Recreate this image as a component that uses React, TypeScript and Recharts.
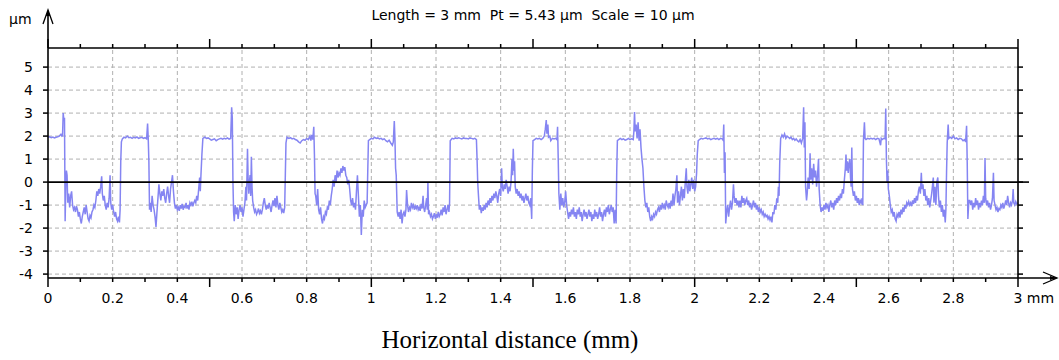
import { Line, LineChart, ReferenceLine, XAxis, YAxis } from "recharts";

// surface profile: [distance (mm), height (µm)]
const profile: [number, number][] = [
  [0, 1.95], [0.005, 1.97], [0.01, 1.93], [0.015, 1.96], [0.02, 1.92], [0.025, 1.95], [0.03, 1.97], [0.035, 2.0], [0.04, 2.08], [0.043, 2.0], [0.045, 2.02],
  [0.047, 3.0], [0.049, 2.7], [0.051, 2.8], [0.053, -1.7], [0.055, -0.2], [0.057, 0.5], [0.059, 0.3], [0.061, -0.9], [0.064, -0.5], [0.067, -1.1], [0.07, -0.6],
  [0.073, -0.4], [0.076, -1.0], [0.079, -1.2], [0.082, -1.1], [0.085, -1.3], [0.088, -1.05], [0.091, -1.2], [0.094, -1.5], [0.097, -1.3], [0.1, -1.6],
  [0.103, -1.8], [0.106, -1.5], [0.109, -1.3], [0.112, -1.1], [0.115, -1.4], [0.118, -1.0], [0.121, -1.3], [0.124, -1.6], [0.127, -1.7], [0.13, -1.45],
  [0.133, -1.55], [0.136, -1.3], [0.139, -1.2], [0.142, -1.0], [0.145, -1.1], [0.148, -0.8], [0.151, -0.4], [0.154, -0.6], [0.157, -0.3], [0.16, -0.5],
  [0.163, -0.2], [0.166, 0.25], [0.168, -0.5], [0.171, -0.8], [0.174, -0.6], [0.177, -1.0], [0.18, -1.2], [0.183, -0.9], [0.186, -1.1], [0.189, -0.7],
  [0.192, 0.3], [0.194, -0.9], [0.197, -1.2], [0.2, -1.0], [0.203, -1.3], [0.206, -1.5], [0.209, -1.3], [0.212, -1.6], [0.215, -1.7], [0.218, -1.5],
  [0.221, -1.75], [0.223, -1.2], [0.225, 0.9], [0.227, 1.75],
  [0.23, 1.88], [0.235, 1.95], [0.24, 1.92], [0.245, 2.0], [0.25, 1.93], [0.255, 1.95], [0.26, 1.9], [0.265, 1.95], [0.27, 1.92], [0.275, 1.96],
  [0.28, 1.9], [0.285, 1.93], [0.29, 1.95], [0.295, 1.9], [0.3, 1.93], [0.305, 1.88], [0.308, 2.55], [0.31, 1.9], [0.312, 0.9], [0.314, -1.2],
  [0.316, -0.9], [0.319, -1.3], [0.322, -0.6], [0.325, -1.0], [0.328, -1.2], [0.331, -1.5], [0.334, -1.95], [0.337, -1.3], [0.34, -0.7], [0.343, -0.1],
  [0.346, -0.5], [0.349, -0.8], [0.352, -0.4], [0.355, -0.6], [0.358, -0.3], [0.361, -0.7], [0.364, -0.9], [0.367, -0.5], [0.37, -0.2], [0.373, -0.6],
  [0.376, -0.9], [0.379, -0.3], [0.382, 0.0], [0.385, 0.3], [0.388, -0.4], [0.391, -0.9], [0.394, -1.15], [0.397, -1.0], [0.4, -1.2], [0.403, -1.1],
  [0.406, -1.25], [0.409, -1.0], [0.412, -1.15], [0.415, -0.95], [0.418, -1.2], [0.421, -1.05], [0.424, -1.1], [0.427, -0.9], [0.43, -1.15], [0.433, -1.0],
  [0.436, -1.2], [0.439, -0.9], [0.442, -1.0], [0.445, -0.85], [0.448, -1.05], [0.451, -0.9], [0.454, -0.8], [0.457, -0.9], [0.46, -0.6], [0.463, -0.8],
  [0.466, -0.3], [0.469, 0.2], [0.471, -0.4], [0.473, 0.3], [0.476, 1.2], [0.479, 1.9],
  [0.485, 1.95], [0.49, 1.9], [0.495, 1.92], [0.5, 1.88], [0.505, 1.82], [0.51, 1.85], [0.515, 1.88], [0.52, 1.8], [0.525, 1.85], [0.53, 1.88],
  [0.535, 1.9], [0.54, 1.87], [0.545, 1.9], [0.55, 1.88], [0.555, 1.92], [0.56, 1.87], [0.565, 1.9], [0.568, 3.25], [0.57, 2.8], [0.572, 0.0], [0.574, -1.3],
  [0.576, -1.7], [0.579, -1.0], [0.582, -1.4], [0.585, -1.1], [0.588, -1.6], [0.591, -1.2], [0.594, -1.0], [0.597, -1.3], [0.6, -1.1], [0.603, -1.5],
  [0.606, -1.2], [0.609, -0.9], [0.612, -0.2], [0.614, -0.8], [0.617, 1.45], [0.619, 0.1], [0.621, -0.5], [0.623, 0.0], [0.625, 0.3], [0.627, -0.6],
  [0.629, 1.1], [0.631, -0.2], [0.633, -0.8], [0.636, -1.1], [0.639, -1.3], [0.642, -1.2], [0.645, -1.4], [0.648, -1.3], [0.651, -1.15], [0.654, -1.35],
  [0.657, -1.25], [0.66, -1.4], [0.663, -1.2], [0.666, -0.9], [0.669, -0.7], [0.672, -1.0], [0.675, -1.2], [0.678, -1.0], [0.681, -1.15], [0.684, -0.9],
  [0.687, -1.1], [0.69, -1.3], [0.693, -1.0], [0.696, -0.8], [0.699, -1.05], [0.702, -0.7], [0.705, -1.1], [0.708, -0.6], [0.711, -1.0], [0.714, -1.2],
  [0.717, -0.9], [0.72, -1.1], [0.723, -1.3], [0.726, -1.2], [0.729, -1.35], [0.732, -1.1], [0.734, 0.3], [0.736, 1.7], [0.739, 1.95],
  [0.745, 1.9], [0.75, 1.93], [0.755, 1.88], [0.76, 1.9], [0.765, 1.85], [0.77, 1.82], [0.775, 1.75], [0.78, 1.7], [0.785, 1.8], [0.79, 1.85],
  [0.795, 1.82], [0.8, 1.9], [0.805, 1.85], [0.81, 2.0], [0.813, 1.8], [0.816, 2.05], [0.819, 1.85], [0.822, 2.4], [0.824, 1.2], [0.826, -0.5],
  [0.828, -0.6], [0.831, -1.0], [0.834, -0.3], [0.837, -1.2], [0.84, -1.4], [0.843, -1.1], [0.846, -1.6], [0.849, -1.8], [0.852, -1.5], [0.855, -1.6],
  [0.858, -1.3], [0.861, -1.4], [0.864, -1.1], [0.867, -1.2], [0.87, -0.8], [0.873, -1.0], [0.876, -0.6], [0.879, -0.3], [0.882, 0.1], [0.885, -0.2],
  [0.888, 0.3], [0.891, 0.0], [0.894, 0.5], [0.897, 0.2], [0.9, 0.4], [0.903, 0.3], [0.906, 0.6], [0.909, 0.4], [0.912, 0.7], [0.915, 0.5],
  [0.918, 0.65], [0.921, 0.3], [0.924, 0.2], [0.927, -0.1], [0.93, 0.1], [0.933, -0.3], [0.936, -0.8], [0.939, -1.0], [0.942, -0.7], [0.945, -1.1],
  [0.948, -0.9], [0.951, -1.2], [0.954, -0.4], [0.957, 0.3], [0.96, -0.6], [0.963, -1.5], [0.966, -1.0], [0.969, -2.3], [0.972, -1.2], [0.975, -1.5],
  [0.978, -0.8], [0.981, -1.1], [0.984, -1.0], [0.987, -0.9], [0.989, 0.5], [0.991, 1.8],
  [0.995, 1.85], [1.0, 1.9], [1.005, 1.88], [1.01, 1.95], [1.015, 1.9], [1.02, 1.92], [1.025, 1.88], [1.03, 1.9], [1.035, 1.85], [1.04, 1.88],
  [1.045, 1.8], [1.05, 1.75], [1.055, 1.82], [1.06, 1.7], [1.065, 1.6], [1.068, 1.75], [1.071, 2.65], [1.073, 1.9], [1.075, 0.6], [1.077, 0.3], [1.08, -1.3],
  [1.083, -1.5], [1.086, -1.3], [1.089, -1.6], [1.092, -1.2], [1.095, -1.8], [1.098, -1.4], [1.101, -1.3], [1.104, -1.5], [1.107, -1.2], [1.109, -0.35],
  [1.112, -1.0], [1.115, -1.3], [1.118, -1.1], [1.121, -1.2], [1.124, -0.9], [1.127, -1.1], [1.13, -1.0], [1.133, -1.2], [1.136, -1.05], [1.139, -1.15],
  [1.142, -1.0], [1.145, -1.2], [1.148, -1.1], [1.151, -1.25], [1.154, -0.95], [1.157, -1.15], [1.16, -0.6], [1.162, -1.1], [1.165, -1.3], [1.168, -1.0],
  [1.171, -0.7], [1.173, -1.2], [1.175, 0.0], [1.177, -1.4], [1.18, -1.3], [1.183, -1.5], [1.186, -1.4], [1.189, -1.6], [1.192, -1.5], [1.195, -1.35],
  [1.198, -1.6], [1.201, -1.4], [1.204, -1.55], [1.207, -1.3], [1.21, -1.5], [1.213, -1.4], [1.216, -1.2], [1.219, -1.45], [1.222, -1.1], [1.225, -1.3],
  [1.228, -1.0], [1.231, -1.4], [1.234, -1.2], [1.237, -1.0], [1.24, -1.3], [1.242, -0.9], [1.244, 1.8],
  [1.25, 1.9], [1.255, 1.88], [1.26, 1.92], [1.265, 1.9], [1.27, 1.93], [1.275, 1.9], [1.28, 1.88], [1.285, 1.92], [1.29, 1.9], [1.295, 1.9],
  [1.3, 1.88], [1.305, 1.92], [1.31, 1.9], [1.315, 1.88], [1.32, 1.9], [1.325, 1.85], [1.327, 1.0], [1.329, 0.0], [1.331, -0.5], [1.334, -1.2],
  [1.337, -1.0], [1.34, -1.35], [1.343, -1.1], [1.346, -1.25], [1.349, -1.0], [1.352, -1.2], [1.355, -0.9], [1.358, -1.1], [1.361, -0.8], [1.364, -1.0],
  [1.367, -0.7], [1.37, -0.9], [1.373, -0.6], [1.376, -0.8], [1.379, -0.5], [1.382, -0.7], [1.385, -0.4], [1.388, -0.6], [1.391, -0.9], [1.394, -0.5],
  [1.397, -0.3], [1.4, -0.6], [1.403, 0.6], [1.405, -0.2], [1.408, -0.4], [1.411, -0.1], [1.414, -0.3], [1.417, 0.1], [1.42, -0.2], [1.423, -0.5],
  [1.426, -0.2], [1.429, -0.4], [1.432, 0.0], [1.435, 1.0], [1.437, 0.3], [1.439, 1.45], [1.441, 0.5], [1.443, 0.9], [1.445, -0.2], [1.448, -0.5],
  [1.451, -0.3], [1.454, -0.6], [1.457, -0.4], [1.46, -0.7], [1.463, -0.5], [1.466, -0.8], [1.469, -0.6], [1.472, -0.9], [1.475, -0.7], [1.478, -0.5],
  [1.481, -0.8], [1.484, -0.6], [1.487, -0.9], [1.49, -1.0], [1.493, -0.7], [1.496, -1.6], [1.498, 0.5], [1.5, 1.8],
  [1.505, 1.85], [1.51, 1.9], [1.515, 1.88], [1.52, 1.9], [1.525, 1.85], [1.53, 1.9], [1.535, 2.0], [1.538, 2.3], [1.541, 2.7], [1.543, 2.1],
  [1.546, 2.5], [1.548, 1.95], [1.552, 2.0], [1.555, 1.8], [1.56, 1.9], [1.565, 1.88], [1.57, 1.9], [1.574, 1.85], [1.576, 2.4], [1.578, 1.0], [1.58, -0.5],
  [1.583, -1.2], [1.586, -0.5], [1.589, -1.0], [1.592, -0.7], [1.595, -1.1], [1.598, -0.9], [1.601, -0.4], [1.604, -1.0], [1.607, -1.3], [1.61, -1.6],
  [1.613, -1.3], [1.616, -1.5], [1.619, -1.2], [1.622, -1.4], [1.625, -1.1], [1.628, -1.5], [1.631, -1.3], [1.634, -1.6], [1.637, -1.2], [1.64, -1.4],
  [1.643, -1.1], [1.646, -1.5], [1.649, -1.3], [1.652, -1.7], [1.655, -1.4], [1.658, -1.2], [1.661, -1.5], [1.664, -1.3], [1.667, -1.6], [1.67, -1.4],
  [1.673, -1.2], [1.676, -1.5], [1.679, -1.3], [1.682, -1.7], [1.685, -1.4], [1.688, -1.6], [1.691, -1.2], [1.694, -1.5], [1.697, -1.3], [1.7, -1.6],
  [1.703, -1.4], [1.706, -1.1], [1.709, -1.5], [1.712, -1.3], [1.715, -1.7], [1.718, -1.4], [1.721, -1.2], [1.724, -1.5], [1.727, -1.1], [1.73, -1.3],
  [1.733, -1.0], [1.736, -1.4], [1.739, -1.2], [1.742, -1.0], [1.745, -1.3], [1.748, -1.1], [1.751, -1.8], [1.754, -1.2], [1.757, -1.8], [1.759, 0.5], [1.761, 1.8],
  [1.765, 1.85], [1.77, 1.9], [1.775, 1.85], [1.78, 1.88], [1.785, 1.82], [1.79, 1.85], [1.795, 1.9], [1.8, 1.85], [1.805, 1.88], [1.81, 1.85],
  [1.812, 2.2], [1.814, 3.05], [1.816, 2.2], [1.819, 2.5], [1.822, 1.9], [1.825, 2.6], [1.828, 1.8], [1.831, 2.3], [1.834, 1.5], [1.837, 1.0],
  [1.84, 0.6], [1.843, -0.2], [1.846, -0.8], [1.849, -1.1],
  [1.852, -0.9], [1.855, -1.3], [1.858, -1.1], [1.861, -1.5], [1.864, -1.7], [1.867, -1.5], [1.87, -1.6], [1.873, -1.4], [1.876, -1.5], [1.879, -1.3],
  [1.882, -1.4], [1.885, -1.2], [1.888, -1.1], [1.891, -1.3], [1.894, -1.0], [1.897, -1.2], [1.9, -0.9], [1.903, -1.1], [1.906, -1.0], [1.909, -1.2],
  [1.912, -0.8], [1.915, -1.0], [1.918, -1.1], [1.921, -0.9], [1.924, -1.15], [1.927, -0.8], [1.93, -1.05], [1.933, -0.5], [1.936, -1.0], [1.939, -0.6],
  [1.942, -0.3], [1.945, 0.3], [1.947, -0.9], [1.95, -0.4], [1.953, -1.0], [1.956, -0.6], [1.959, -0.2], [1.962, -0.8], [1.965, -0.3], [1.968, -0.7],
  [1.971, 0.0], [1.974, 0.6], [1.976, -0.2], [1.979, -0.5], [1.982, 0.1], [1.985, -0.4], [1.988, -0.1], [1.991, 0.2], [1.994, -0.3], [1.997, 0.1],
  [2.0, -0.4], [2.003, -0.2], [2.006, 0.4], [2.008, 1.2], [2.011, 1.8],
  [2.015, 1.85], [2.02, 1.9], [2.025, 1.88], [2.03, 1.9], [2.035, 1.92], [2.04, 1.88], [2.045, 1.9], [2.05, 1.85], [2.055, 1.88], [2.06, 1.9],
  [2.065, 1.87], [2.07, 1.9], [2.075, 1.85], [2.08, 1.9], [2.085, 1.88], [2.088, 1.82], [2.09, 2.5], [2.092, 0.4], [2.094, 1.3], [2.096, -1.8], [2.099, -1.3],
  [2.102, -1.0], [2.105, -1.5], [2.108, -1.1], [2.111, -0.8], [2.114, -1.2], [2.117, -0.9], [2.12, -0.1], [2.122, -0.6], [2.125, -0.9], [2.128, -0.7],
  [2.131, -1.0], [2.134, -0.8], [2.137, -1.1], [2.14, -0.8], [2.143, -1.1], [2.146, -0.6], [2.149, -0.9], [2.152, -0.7], [2.155, -1.0], [2.158, -0.8],
  [2.161, -0.7], [2.164, -1.0], [2.167, -0.8], [2.17, -1.1], [2.173, -0.9], [2.176, -1.2], [2.179, -1.0], [2.182, -0.8], [2.185, -1.1], [2.188, -0.9],
  [2.191, -1.2], [2.194, -1.0], [2.197, -1.3], [2.2, -1.1], [2.203, -1.3], [2.206, -1.2], [2.209, -1.4], [2.212, -1.3], [2.215, -1.5], [2.218, -1.4],
  [2.221, -1.5], [2.224, -1.45], [2.227, -1.6], [2.23, -1.5], [2.233, -1.65], [2.236, -1.5], [2.239, -1.75], [2.242, -1.3], [2.245, -1.4], [2.248, -1.0],
  [2.251, -1.2], [2.254, -0.7], [2.257, -0.9], [2.259, -0.2], [2.261, -0.6], [2.263, 0.8], [2.266, 1.9],
  [2.27, 2.05], [2.274, 1.95], [2.278, 2.1], [2.282, 1.9], [2.286, 2.0], [2.29, 1.95], [2.294, 1.9], [2.298, 1.95], [2.302, 1.85], [2.306, 1.9],
  [2.31, 1.82], [2.314, 1.88], [2.318, 1.8], [2.322, 1.75], [2.326, 1.85], [2.33, 1.7], [2.334, 1.9], [2.337, 3.25], [2.339, 1.5], [2.341, 2.6],
  [2.343, -0.2], [2.346, -0.8], [2.348, -0.5], [2.351, 0.2], [2.354, -0.3], [2.357, 1.25], [2.359, 0.1], [2.362, 0.6], [2.365, -0.1], [2.368, 0.8],
  [2.371, 0.2], [2.374, 0.5], [2.377, -0.2], [2.38, 0.3], [2.383, 1.0], [2.385, -0.3], [2.388, -1.0], [2.391, -1.3], [2.394, -1.1], [2.397, -1.25],
  [2.4, -1.0], [2.403, -1.2], [2.406, -0.9], [2.409, -1.1], [2.412, -1.0], [2.415, -1.3], [2.418, -1.0], [2.421, -0.8], [2.424, -1.1], [2.427, -0.9],
  [2.43, -1.2], [2.433, -0.8], [2.436, -1.0], [2.439, -0.7], [2.442, -0.9], [2.445, -0.6], [2.448, -0.8], [2.451, -0.5], [2.454, -0.7], [2.457, -0.3],
  [2.46, -0.5], [2.463, 0.1], [2.466, 0.6], [2.468, 1.2], [2.47, 0.5], [2.472, 0.9], [2.475, 0.4], [2.477, 0.8], [2.48, 1.0], [2.482, 0.2],
  [2.484, -0.2], [2.486, 1.5], [2.488, -0.3], [2.491, -0.6], [2.494, -0.4], [2.497, -0.8], [2.5, -0.6], [2.503, -0.9], [2.506, -0.7], [2.509, -1.0],
  [2.512, -0.8], [2.515, -0.9], [2.518, -0.7], [2.52, -1.0], [2.522, 1.8],
  [2.525, 2.6], [2.527, 1.9], [2.53, 1.85], [2.535, 1.9], [2.54, 1.88], [2.545, 1.9], [2.55, 1.88], [2.555, 1.9], [2.56, 1.85], [2.565, 1.9],
  [2.57, 1.88], [2.575, 1.6], [2.577, 1.9], [2.58, 1.85], [2.585, 1.9], [2.589, 1.88], [2.591, 3.2], [2.593, 1.0], [2.595, 0.0],
  [2.597, 0.5], [2.599, -0.3], [2.602, -0.6], [2.605, -1.0], [2.608, -1.3], [2.611, -1.2], [2.614, -1.5], [2.617, -1.3], [2.62, -1.6], [2.623, -1.7],
  [2.626, -1.4], [2.629, -1.5], [2.632, -1.3], [2.635, -1.55], [2.638, -1.2], [2.641, -1.4], [2.644, -1.1], [2.647, -1.3], [2.65, -1.0], [2.653, -1.15],
  [2.656, -0.9], [2.659, -1.0], [2.662, -0.85], [2.665, -1.0], [2.668, -0.9], [2.671, -1.05], [2.674, -0.8], [2.677, -0.95], [2.68, -0.7], [2.683, -0.9],
  [2.686, -0.6], [2.689, -0.8], [2.692, -0.4], [2.695, -0.2], [2.698, -0.5], [2.701, 0.4], [2.703, -0.3], [2.706, -0.1], [2.709, -0.6], [2.712, -0.3],
  [2.715, -0.8], [2.718, -0.6], [2.721, -1.0], [2.724, -0.7], [2.727, -1.1], [2.73, -0.8], [2.733, -0.5], [2.736, -0.1], [2.738, 0.2], [2.74, -0.9],
  [2.743, -0.2], [2.746, -1.0], [2.749, 0.0], [2.752, 0.2], [2.754, -0.6], [2.757, -1.1], [2.76, -0.8], [2.763, -1.3], [2.766, -1.0], [2.769, -1.5],
  [2.772, -1.2], [2.775, -1.75], [2.777, -1.2], [2.779, 0.4], [2.781, 1.7],
  [2.784, 2.5], [2.786, 1.9], [2.79, 1.95], [2.795, 1.9], [2.8, 2.0], [2.805, 1.88], [2.81, 1.92], [2.815, 1.85], [2.82, 1.9], [2.825, 1.88],
  [2.83, 1.8], [2.835, 1.85], [2.838, 1.75], [2.841, 2.45], [2.843, 0.8], [2.845, -1.6], [2.848, -0.8],
  [2.851, -0.8], [2.854, -1.0], [2.857, -0.8], [2.86, -1.2], [2.863, -0.9], [2.866, -1.1], [2.869, -0.7], [2.872, -1.0], [2.875, -0.8], [2.878, -1.2],
  [2.881, -0.9], [2.884, -1.1], [2.887, -0.8], [2.89, -1.0], [2.893, -0.6], [2.896, -0.9], [2.898, 1.05], [2.9, -0.7], [2.903, -1.0], [2.906, -0.8],
  [2.909, -1.1], [2.912, -0.9], [2.915, -1.2], [2.918, -1.0], [2.921, -0.7], [2.924, 0.4], [2.926, -0.8], [2.929, -1.0], [2.932, -1.2], [2.935, -1.1],
  [2.938, -1.3], [2.941, -1.15], [2.944, -1.2], [2.947, -1.0], [2.95, -1.1], [2.953, -0.9], [2.956, -1.15], [2.959, -1.0], [2.962, -0.8], [2.965, -1.0],
  [2.968, -0.6], [2.971, -0.9], [2.974, -1.1], [2.977, -0.9], [2.98, -1.0], [2.983, -0.8], [2.985, -0.3], [2.987, -0.9], [2.99, -1.0], [2.993, -0.85],
  [2.996, -0.95], [3.0, -0.9],
];

// axis ticks: every 0.1 mm (labels every 0.2), one per µm
const xTicks = [
  0, 0.1, 0.2, 0.3, 0.4, 0.5, 0.6, 0.7, 0.8, 0.9, 1, 1.1, 1.2, 1.3, 1.4, 1.5, 1.6, 1.7, 1.8, 1.9, 2,
  2.1, 2.2, 2.3, 2.4, 2.5, 2.6, 2.7, 2.8, 2.9, 3,
];
const yTicks = [-4, -3, -2, -1, 0, 1, 2, 3, 4, 5];
const gridX = [0.2, 0.4, 0.6, 0.8, 1, 1.2, 1.4, 1.6, 1.8, 2, 2.2, 2.4, 2.6, 2.8];
const gridY = [-4, -3, -2, -1, 1, 2, 3, 4, 5];

const title = "Length = 3 mm  Pt = 5.43 µm  Scale = 10 µm";
const xTitle = "Horizontal distance (mm)";

const W = 1059;
const H = 360;
const PLOT = { left: 48, right: 1018, top: 48, bottom: 278 };
const Y_DOMAIN: [number, number] = [-4.17, 5.83];
const FONT = "DejaVu Sans";
const AXIS = "#000";
const INK = "#000";

const rows = profile.map(([x, h]) => ({ x, h }));

const yPos = (v: number) =>
  PLOT.top + ((Y_DOMAIN[1] - v) / (Y_DOMAIN[1] - Y_DOMAIN[0])) * (PLOT.bottom - PLOT.top);

const tenths = (v: number) => Math.round(v * 10);

function BottomTick({ x, payload }: any) {
  const t = tenths(payload.value);
  const major = t % 5 === 0;
  const last = t === 30;
  return (
    <g>
      <line x1={x} x2={x} y1={PLOT.bottom} y2={PLOT.bottom + (major ? 9 : 4)} stroke={AXIS} strokeWidth={1.5} />
      {t % 2 === 0 && (
        <text
          x={last ? x - 4.5 : x}
          y={303}
          textAnchor={last ? "start" : "middle"}
          fontFamily={FONT}
          fontSize={14}
          fill={INK}
        >
          {last ? "3 mm" : String(t / 10)}
        </text>
      )}
    </g>
  );
}

function TopTick({ x, payload }: any) {
  const major = tenths(payload.value) % 5 === 0;
  return <line x1={x} x2={x} y1={PLOT.top} y2={PLOT.top - (major ? 9 : 4)} stroke={AXIS} strokeWidth={1.5} />;
}

function LeftTick({ y, payload }: any) {
  return (
    <g>
      <line x1={PLOT.left - 5} x2={PLOT.left} y1={y} y2={y} stroke={AXIS} strokeWidth={1.5} />
      <text x={33} y={y + 5} textAnchor="end" fontFamily={FONT} fontSize={14} fill={INK}>
        {payload.value}
      </text>
    </g>
  );
}

function RightTick({ y }: any) {
  return <line x1={PLOT.right} x2={PLOT.right + 5} y1={y} y2={y} stroke={AXIS} strokeWidth={1.5} />;
}

export default function App() {
  const zeroY = yPos(0);
  return (
    <div style={{ position: "fixed", left: 0, top: 0, width: W, height: H, background: "#fff" }}>
      <LineChart width={W} height={H} data={rows} margin={{ top: 28, right: 11, bottom: 42, left: 8 }}>
        <XAxis
          dataKey="x"
          type="number"
          domain={[0, 3]}
          ticks={xTicks}
          interval={0}
          height={40}
          tickLine={false}
          tick={<BottomTick />}
          axisLine={{ stroke: AXIS, strokeWidth: 1.6 }}
        />
        <XAxis
          xAxisId="top"
          orientation="top"
          dataKey="x"
          type="number"
          domain={[0, 3]}
          ticks={xTicks}
          interval={0}
          height={20}
          tickLine={false}
          tick={<TopTick />}
          axisLine={{ stroke: AXIS, strokeWidth: 1.6 }}
        />
        <YAxis
          type="number"
          domain={Y_DOMAIN}
          ticks={yTicks}
          interval={0}
          allowDataOverflow
          width={40}
          tickLine={false}
          tick={<LeftTick />}
          axisLine={{ stroke: AXIS, strokeWidth: 1.6 }}
        />
        <YAxis
          yAxisId="right"
          orientation="right"
          type="number"
          domain={Y_DOMAIN}
          ticks={yTicks}
          interval={0}
          allowDataOverflow
          width={30}
          tickLine={false}
          tick={<RightTick />}
          axisLine={{ stroke: AXIS, strokeWidth: 1.6 }}
        />
        {gridY.map((v) => (
          <ReferenceLine key={`gy${v}`} y={v} stroke="#b0b0b0" strokeDasharray="4 3" strokeWidth={1} />
        ))}
        {gridX.map((v) => (
          <ReferenceLine key={`gx${v}`} x={v} stroke="#b0b0b0" strokeDasharray="4 3" strokeWidth={1} />
        ))}
        <Line
          dataKey="h"
          type="linear"
          stroke="#8585f2"
          strokeWidth={1.5}
          dot={false}
          isAnimationActive={false}
        />
        <ReferenceLine y={0} stroke={AXIS} strokeWidth={1.6} />
      </LineChart>

      {/* titles, axis arrows and the line extensions past the frame */}
      <svg width={W} height={H} style={{ position: "absolute", left: 0, top: 0, pointerEvents: "none" }}>
        <text x={(PLOT.left + PLOT.right) / 2} y={20} textAnchor="middle" fontFamily={FONT} fontSize={14} fill={INK} style={{ whiteSpace: "pre" }}>
          {title}
        </text>
        <text x={9} y={24} fontFamily={FONT} fontSize={14} fill={INK}>µm</text>
        <text x={510} y={348} textAnchor="middle" fontFamily="Liberation Serif, Times New Roman, serif" fontSize={25} fill="#000">
          {xTitle}
        </text>

        <line x1={PLOT.left} x2={PLOT.left} y1={PLOT.top} y2={11} stroke={AXIS} strokeWidth={1.6} />
        <polyline points={`${PLOT.left - 5},24 ${PLOT.left},10 ${PLOT.left + 5},24`} fill="none" stroke={AXIS} strokeWidth={1.3} />
        <polygon points={`${PLOT.left - 2},16 ${PLOT.left},10 ${PLOT.left + 2},16`} fill={AXIS} />

        <line x1={PLOT.right} x2={1056} y1={PLOT.bottom} y2={PLOT.bottom} stroke={AXIS} strokeWidth={1.6} />
        <polyline points={`1043,${PLOT.bottom - 6} 1057,${PLOT.bottom} 1043,${PLOT.bottom + 6}`} fill="none" stroke={AXIS} strokeWidth={1.3} />
        <polygon points={`1050,${PLOT.bottom - 2} 1057,${PLOT.bottom} 1050,${PLOT.bottom + 2}`} fill={AXIS} />

        <line x1={PLOT.right} x2={PLOT.right + 11} y1={zeroY} y2={zeroY} stroke={AXIS} strokeWidth={1.6} />
      </svg>
    </div>
  );
}
